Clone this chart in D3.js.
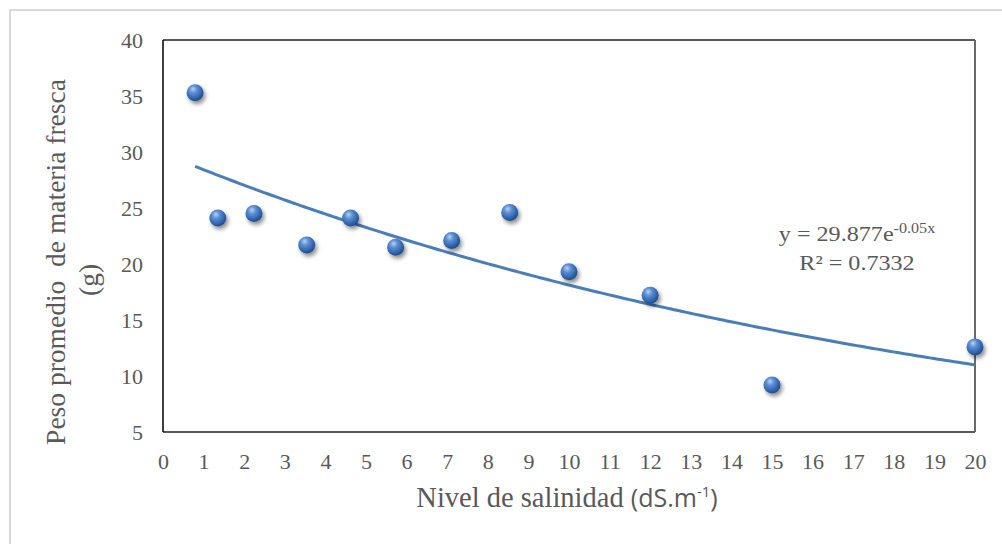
<!DOCTYPE html>
<html>
<head>
<meta charset="utf-8">
<script src="https://cdn.jsdelivr.net/npm/d3@7"></script>
<style>
  html, body { margin: 0; padding: 0; background: #ffffff; }
  svg { display: block; }
</style>
</head>
<body>
<svg id="chart" width="1002" height="544"></svg>
<script>
// Salinity level (dS/m) and mean fresh weight (g)
const salinity = [0.79, 1.35, 2.24, 3.54, 4.62, 5.73, 7.11, 8.54, 10.0, 12.0, 15.0, 20.0];
const freshWeight = [35.3, 24.1, 24.5, 21.7, 24.1, 21.5, 22.1, 24.6, 19.3, 17.2, 9.2, 12.6];

// Exponential trend line: y = a * e^(b x)
const trendA = 29.877;
const trendB = -0.05;
const trendR2 = 0.7332;

const xTicks = d3.range(0, 21, 1);
const yTicks = [5, 10, 15, 20, 25, 30, 35, 40];

const serif = "'Liberation Serif', 'Times New Roman', serif";
const sans = "'Open Sans', 'Noto Sans', sans-serif";

const svg = d3.select("#chart");
const plot = { left: 163, right: 975, top: 40, bottom: 432 };

const x = d3.scaleLinear().domain([0, 20]).range([plot.left, plot.right]);
const y = d3.scaleLinear().domain([5, 40]).range([plot.bottom, plot.top]);

// Outer chart frame
svg.append("rect")
  .attr("x", 10).attr("y", 10)
  .attr("width", 1010).attr("height", 560)
  .attr("fill", "#ffffff")
  .attr("stroke", "#d9d9d9").attr("stroke-width", 2);

const defs = svg.append("defs");
const grad = defs.append("radialGradient")
  .attr("id", "ball").attr("cx", "40%").attr("cy", "35%").attr("r", "65%")
  .attr("fx", "38%").attr("fy", "28%");
grad.append("stop").attr("offset", "0%").attr("stop-color", "#b9d3f2");
grad.append("stop").attr("offset", "35%").attr("stop-color", "#5b8fd6");
grad.append("stop").attr("offset", "80%").attr("stop-color", "#2f62a8");
grad.append("stop").attr("offset", "100%").attr("stop-color", "#1f4b8a");

const shadow = defs.append("filter").attr("id", "shadow")
  .attr("x", "-80%").attr("y", "-80%").attr("width", "260%").attr("height", "260%");
shadow.append("feGaussianBlur").attr("in", "SourceAlpha").attr("stdDeviation", 2.2).attr("result", "b");
shadow.append("feOffset").attr("in", "b").attr("dx", 1.5).attr("dy", 2.5).attr("result", "o");
shadow.append("feComponentTransfer").attr("in", "o").attr("result", "s")
  .append("feFuncA").attr("type", "linear").attr("slope", 0.45);
const merge = shadow.append("feMerge");
merge.append("feMergeNode").attr("in", "s");
merge.append("feMergeNode").attr("in", "SourceGraphic");

// Plot area border
const g = svg.append("g");
g.append("line").attr("x1", plot.left).attr("x2", plot.right).attr("y1", plot.top).attr("y2", plot.top)
  .attr("stroke", "#595959").attr("stroke-width", 1.8);
g.append("line").attr("x1", plot.right).attr("x2", plot.right).attr("y1", plot.top).attr("y2", plot.bottom)
  .attr("stroke", "#595959").attr("stroke-width", 1.8);
g.append("line").attr("x1", plot.left).attr("x2", plot.right).attr("y1", plot.bottom).attr("y2", plot.bottom)
  .attr("stroke", "#595959").attr("stroke-width", 1.8);
g.append("line").attr("x1", plot.left).attr("x2", plot.left).attr("y1", plot.top).attr("y2", plot.bottom)
  .attr("stroke", "#000000").attr("stroke-width", 1.5);

// Axes (labels only, no tick marks)
const xAxis = d3.axisBottom(x).tickValues(xTicks).tickSize(0).tickPadding(0).tickFormat(d3.format("d"));
const yAxis = d3.axisLeft(y).tickValues(yTicks).tickSize(0).tickPadding(0).tickFormat(d3.format("d"));

const gx = svg.append("g").attr("transform", `translate(0, ${plot.bottom + 29})`).call(xAxis);
gx.select(".domain").remove();
gx.selectAll("text").attr("dy", "0.35em");

const gy = svg.append("g").attr("transform", `translate(${plot.left - 20}, 0)`).call(yAxis);
gy.select(".domain").remove();

[gx, gy].forEach(a => {
  a.attr("font-family", serif).attr("font-size", 22);
  a.selectAll("text")
    .attr("fill", "#595959")
    .attr("font-family", serif)
    .attr("font-size", 22);
});

// Trend line from the first observation to the last
const trendPts = d3.range(salinity[0], 20.0001, 0.1).map(v => [v, trendA * Math.exp(trendB * v)]);
svg.append("path")
  .datum(trendPts)
  .attr("fill", "none")
  .attr("stroke", "#4a7ebb")
  .attr("stroke-width", 3)
  .attr("d", d3.line().x(d => x(d[0])).y(d => y(d[1])));

// Observations
svg.append("g").selectAll("circle")
  .data(salinity.map((s, i) => [s, freshWeight[i]]))
  .join("circle")
  .attr("cx", d => x(d[0]))
  .attr("cy", d => y(d[1]))
  .attr("r", 8.5)
  .attr("fill", "url(#ball)")
  .attr("filter", "url(#shadow)");

// Equation label
const eqG = svg.append("g").attr("transform", "translate(857,0) scale(1.15,1)");
const eq = eqG.append("text")
  .attr("x", 0).attr("y", 241)
  .attr("text-anchor", "middle")
  .attr("fill", "#595959")
  .attr("font-family", serif)
  .attr("font-size", 21);
eq.append("tspan").text(`y = ${trendA}e`);
eq.append("tspan").attr("dy", -8).attr("font-size", 14).text(`${trendB}x`);
eqG.append("text")
  .attr("x", 0).attr("y", 270)
  .attr("text-anchor", "middle")
  .attr("fill", "#595959")
  .attr("font-family", serif)
  .attr("font-size", 21)
  .text(`R² = ${trendR2}`);

// Axis titles
const xt = svg.append("text")
  .attr("x", 567).attr("y", 507)
  .attr("text-anchor", "middle")
  .attr("fill", "#595959")
  .attr("font-family", serif)
  .attr("font-size", 28.5)
  .style("white-space", "pre");
xt.append("tspan").text("Nivel de salinidad ");
xt.append("tspan").attr("font-family", sans).attr("font-size", 25).text("(dS.m");
xt.append("tspan").attr("font-family", sans).attr("font-size", 15).attr("dy", -10).text("-1");
xt.append("tspan").attr("font-family", sans).attr("font-size", 25).attr("dy", 10).text(")");

const yt = svg.append("text")
  .attr("transform", "rotate(-90)")
  .attr("text-anchor", "middle")
  .attr("fill", "#595959")
  .attr("font-family", serif)
  .attr("font-size", 27.5)
  .style("white-space", "pre");
yt.append("tspan").attr("x", -262).attr("y", 65).text("Peso promedio  de materia fresca");
yt.append("tspan").attr("x", -280).attr("y", 98).text("(g)");
</script>
</body>
</html>
